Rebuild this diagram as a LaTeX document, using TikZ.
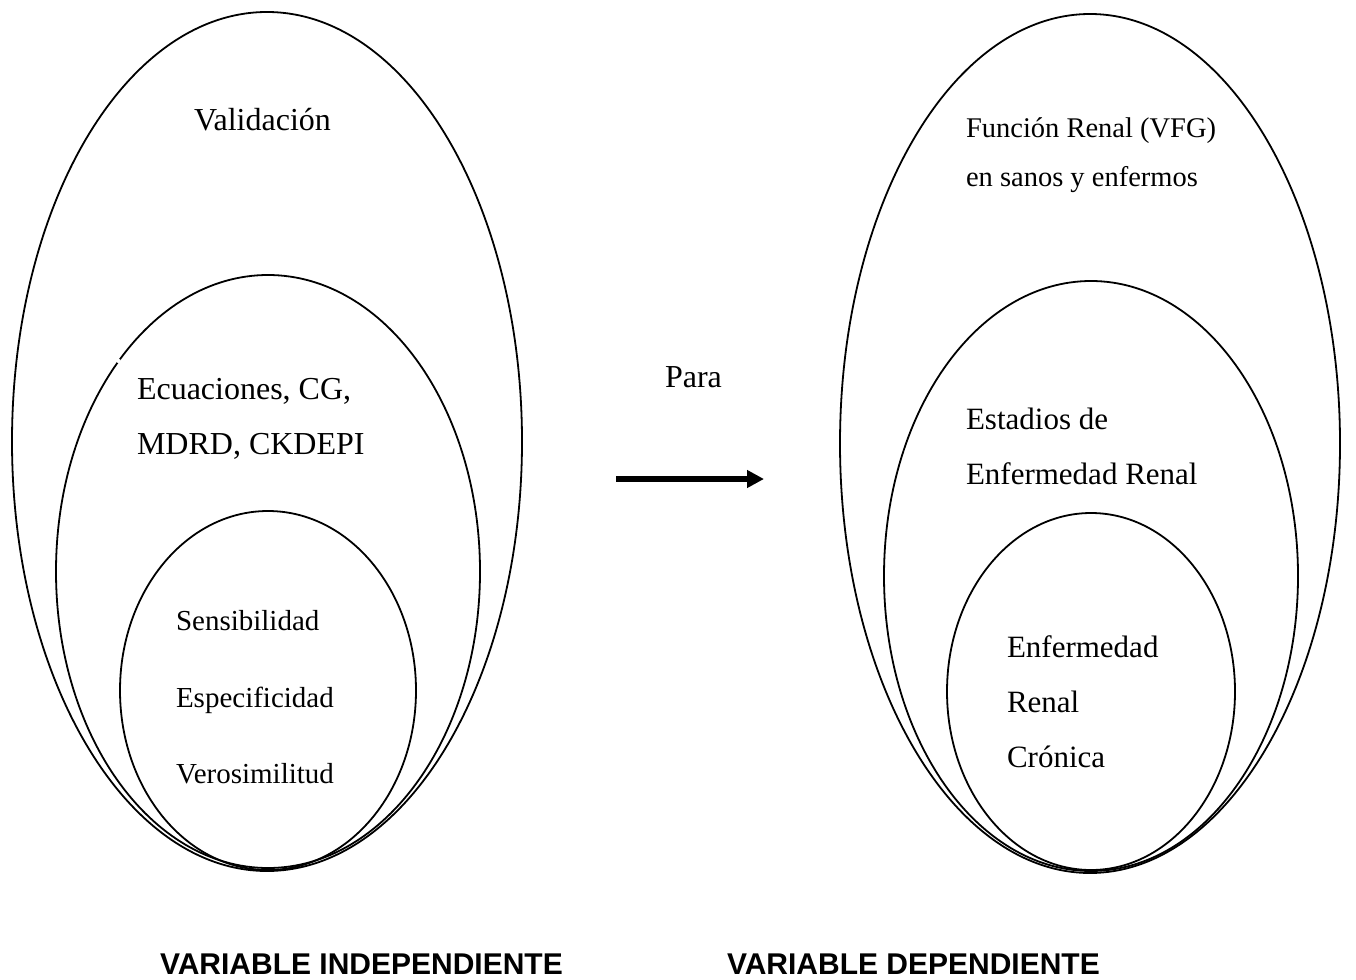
\documentclass[tikz,border=0pt]{standalone}
\usepackage{fontspec}
\setmainfont{Liberation Serif}
\newfontfamily\labelfont{Liberation Sans}
\usetikzlibrary{arrows.meta}

\tikzset{
  ring/.style={line width=1.8pt, draw=black},
  txt/.style={anchor=base west, inner sep=0pt, outer sep=0pt},
  big/.style={txt, font=\fontsize{32}{38}\selectfont},
  mid/.style={txt, font=\fontsize{31}{37}\selectfont},
  small/.style={txt, font=\fontsize{29}{35}\selectfont},
  tiny/.style={txt, font=\fontsize{28.5}{34}\selectfont},
  varlabel/.style={txt, font=\labelfont\bfseries\fontsize{30}{36}\selectfont},
  flow/.style={line width=6pt, -{Triangle[length=17pt,width=17pt]}}
}

\begin{document}
\begin{tikzpicture}[x=1pt, y=-1pt]
  \useasboundingbox (0,0) rectangle (1356,979);
  \fill[white] (0,0) rectangle (1356,979);

  % independent variable: nested ellipses
  \draw[ring] (267,441.5) ellipse [x radius=255pt, y radius=429.5pt];
  \draw[ring] (268,571.5) ellipse [x radius=212pt, y radius=296.5pt];
  \draw[ring] (268,690.5) ellipse [x radius=148pt, y radius=179.5pt];
  % small breaks in the middle outline
  \fill[white] (118.6,361) circle (2.2pt);
  \fill[white] (416.5,353) circle (1.6pt);

  % dependent variable: nested ellipses
  \draw[ring] (1090,443.5) ellipse [x radius=250pt, y radius=429.5pt];
  \draw[ring] (1091,576) ellipse [x radius=207pt, y radius=295pt];
  \draw[ring] (1091,691.5) ellipse [x radius=144pt, y radius=178.5pt];

  % left texts
  \node[big] (valid) at (194,130) {Validación};
  \node[big] (ecu1) at (137,399) {Ecuaciones, CG,};
  \node[big] (ecu2) at (137,454) {MDRD, CKDEPI};
  \node[small] (sens) at (176,630) {Sensibilidad};
  \node[small] (espe) at (176,707) {Especificidad};
  \node[small] (vero) at (176,783) {Verosimilitud};

  % centre
  \node[big] (para) at (665,387) {Para};
  \coordinate (arrA) at (616,479);
  \coordinate (arrB) at (764,479);
  \draw[flow] (arrA) -- (arrB);

  % right texts
  \node[tiny] (func1) at (966,137) {Función Renal (VFG)};
  \node[tiny] (func2) at (966,186) {en sanos y enfermos};
  \node[mid] (est1) at (966,429) {Estadios de};
  \node[mid] (est2) at (966,484) {Enfermedad Renal};
  \node[mid] (erc1) at (1007,657) {Enfermedad};
  \node[mid] (erc2) at (1007,712) {Renal};
  \node[mid] (erc3) at (1007,767) {Crónica};

  % bottom labels
  \node[varlabel] (vind) at (160,974) {VARIABLE INDEPENDIENTE};
  \node[varlabel] (vdep) at (727,974) {VARIABLE DEPENDIENTE};
\end{tikzpicture}
\end{document}
